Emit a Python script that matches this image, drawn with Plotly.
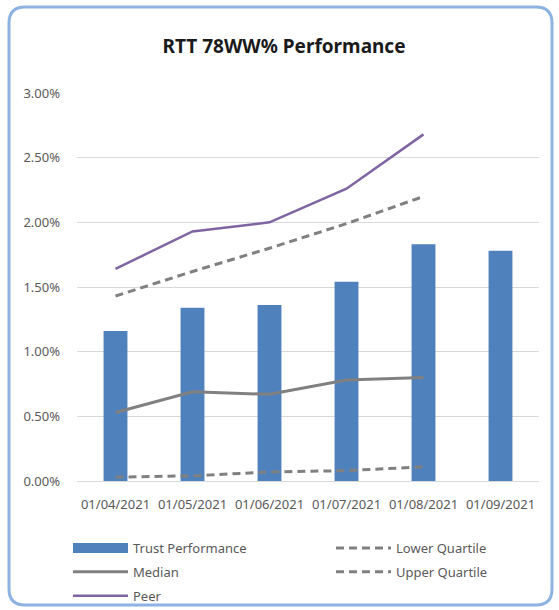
"""RTT 78WW% performance chart: trust bars with peer/quartile lines."""

import plotly.graph_objects as go

# data (fractions, shown as %)
months = ["01/04/2021", "01/05/2021", "01/06/2021", "01/07/2021", "01/08/2021", "01/09/2021"]
trust = [0.0116, 0.0134, 0.0136, 0.0154, 0.0183, 0.0178]
median = [0.0053, 0.0069, 0.0067, 0.0078, 0.0080, None]
peer = [0.0164, 0.0193, 0.0200, 0.0226, 0.0268, None]
lower_q = [0.0003, 0.0004, 0.0007, 0.0008, 0.0011, None]
upper_q = [0.0143, 0.0162, 0.0180, 0.0199, 0.0220, None]

W, H = 559, 610
L, R, T, B = 77, 20, 93, 129
PW, PH = W - L - R, H - T - B

BLUE = "#4f81bd"
GREY = "#808080"
PURPLE = "#8064a2"
TEXT = "#595959"
FONT = "Noto Sans"
DASH = "8px,5px"


def px(x):
    return (x - L) / PW


def py(y):
    return (H - B - y) / PH


def rounded_box(x0, y0, x1, y1, r):
    """Rounded rectangle path in paper coords from pixel corners."""
    pts = [
        f"M {px(x0 + r)} {py(y0)}",
        f"L {px(x1 - r)} {py(y0)}",
        f"Q {px(x1)} {py(y0)} {px(x1)} {py(y0 + r)}",
        f"L {px(x1)} {py(y1 - r)}",
        f"Q {px(x1)} {py(y1)} {px(x1 - r)} {py(y1)}",
        f"L {px(x0 + r)} {py(y1)}",
        f"Q {px(x0)} {py(y1)} {px(x0)} {py(y1 - r)}",
        f"L {px(x0)} {py(y0 + r)}",
        f"Q {px(x0)} {py(y0)} {px(x0 + r)} {py(y0)}",
        "Z",
    ]
    return " ".join(pts)


fig = go.Figure()

fig.add_trace(go.Bar(x=months, y=trust, name="Trust Performance",
                     marker=dict(color=BLUE, line=dict(width=0)),
                     showlegend=False))

# legend: left column (legend) and right column (legend2)
fig.add_trace(go.Scatter(x=[None], y=[None], mode="lines", name="Trust Performance",
                         line=dict(color=BLUE, width=10), legend="legend",
                         legendgroup="a", legendrank=1))
fig.add_trace(go.Scatter(x=months, y=median, mode="lines", name="Median",
                         line=dict(color=GREY, width=3), legend="legend",
                         legendgroup="b", legendrank=2))
fig.add_trace(go.Scatter(x=months, y=peer, mode="lines", name="Peer",
                         line=dict(color=PURPLE, width=2.5), legend="legend",
                         legendgroup="c", legendrank=3))
fig.add_trace(go.Scatter(x=months, y=lower_q, mode="lines", name="Lower Quartile",
                         line=dict(color=GREY, width=3, dash=DASH), legend="legend2",
                         legendgroup="d", legendrank=1))
fig.add_trace(go.Scatter(x=months, y=upper_q, mode="lines", name="Upper Quartile",
                         line=dict(color=GREY, width=3, dash=DASH), legend="legend2",
                         legendgroup="e", legendrank=2))

legend_common = dict(orientation="v", xref="container", yref="container",
                     xanchor="left", yanchor="top", itemwidth=55,
                     traceorder="grouped", tracegroupgap=4,
                     font=dict(size=13, color=TEXT), bgcolor="rgba(0,0,0,0)")

fig.update_layout(
    width=W, height=H,
    margin=dict(l=L, r=R, t=T, b=B, autoexpand=False),
    paper_bgcolor="white", plot_bgcolor="white",
    font=dict(family=FONT, color=TEXT, size=12),
    title=dict(text="<b>RTT 78WW% Performance</b>", x=284 / W, xanchor="center",
               y=1 - 46 / H, yanchor="middle",
               font=dict(family=FONT, size=19, color="#1a1a1a")),
    bargap=0.69,
    showlegend=True,
    legend=dict(x=68 / W, y=1 - 533 / H, **legend_common),
    legend2=dict(x=331 / W, y=1 - 533 / H, **legend_common),
    shapes=[dict(type="path", xref="paper", yref="paper",
                 path=rounded_box(9, 7, 552, 605, 16),
                 line=dict(color="#8db3e2", width=3), layer="above")],
)

fig.update_xaxes(type="category", showgrid=False, showline=True,
                 linecolor="#d9d9d9", linewidth=1, ticks="",
                 tickangle=0, ticklabelstandoff=11,
                 tickfont=dict(size=13, color=TEXT))
fig.update_yaxes(range=[0, 0.03], dtick=0.005, tickformat=".2%",
                 showgrid=True, gridcolor="#d9d9d9", gridwidth=1,
                 zeroline=False, showline=False, ticks="", ticklabelstandoff=16,
                 tickfont=dict(size=13, color=TEXT))

# drop the browser's default body margin so the figure fills the window
fig.write_html("out.html", config={"displayModeBar": False},
               post_script="document.body.style.margin='0';")
